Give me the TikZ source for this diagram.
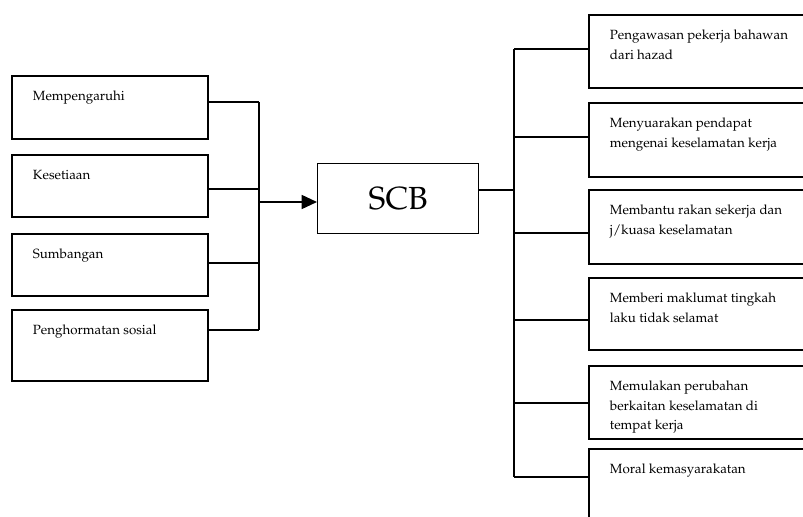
\documentclass[tikz,border=0pt]{standalone}
\usepackage[T1]{fontenc}
\usepackage{mathpazo}
\usepackage{tikz}
\usetikzlibrary{arrows.meta}

\newcommand{\cardtext}[3]{\parbox[t][\dimexpr#2-17.2pt\relax][t]{#1}{\fontsize{10}{14.5}\selectfont\strut#3}}

\tikzset{
  card/.style={draw, line width=1.4pt, anchor=north west, inner xsep=15.75pt, inner ysep=8.6pt},
  link/.style={line width=1.2pt},
}

\begin{document}
\begin{tikzpicture}[x=0.75pt,y=-0.75pt]

\useasboundingbox (0,0) rectangle (803,517);
\clip (0,0) rectangle (803,517);

\node[card] (L1) at (11,75)  {\cardtext{115.5pt}{47.25pt}{Mempengaruhi}};
\node[card] (L2) at (11,154) {\cardtext{115.5pt}{46.5pt}{Kesetiaan}};
\node[card] (L3) at (11,233) {\cardtext{115.5pt}{46.5pt}{Sumbangan}};
\node[card] (L4) at (11,309) {\cardtext{115.5pt}{53.25pt}{Penghormatan sosial}};

\node[draw, line width=1.1pt, minimum width=120.75pt, minimum height=52.5pt, anchor=north west, font=\fontsize{24}{28}\selectfont] (scb) at (317,163) {SCB};

\node[card] (R1) at (588,14)  {\cardtext{160pt}{54.75pt}{Pengawasan pekerja bahawan\\dari hazad}};
\node[card] (R2) at (588,102) {\cardtext{160pt}{55.5pt}{Menyuarakan pendapat\\mengenai keselamatan kerja}};
\node[card] (R3) at (588,189) {\cardtext{160pt}{55.5pt}{Membantu rakan sekerja dan\\j/kuasa keselamatan}};
\node[card] (R4) at (588,277) {\cardtext{160pt}{54pt}{Memberi maklumat tingkah\\laku tidak selamat}};
\node[card] (R5) at (588,365) {\cardtext{160pt}{54.75pt}{Memulakan perubahan\\berkaitan keselamatan di\\tempat kerja}};
\node[card] (R6) at (588,448) {\cardtext{160pt}{60pt}{Moral kemasyarakatan}};

% left side
\coordinate (jl) at (259,202);
\draw[link] (L1.north east) ++(0,27) coordinate (a1) -- (a1 -| jl);
\draw[link] (L2.north east) ++(0,35) coordinate (a2) -- (a2 -| jl);
\draw[link] (L3.north east) ++(0,30) coordinate (a3) -- (a3 -| jl);
\draw[link] (L4.north east) ++(0,21) coordinate (a4) -- (a4 -| jl);
\draw[link] (a1 -| jl) -- (a4 -| jl);
\draw[link, -{Triangle[length=11.5pt, width=10.5pt]}] (jl) -- (jl -| scb.west);

% right side
\coordinate (jr) at (514,190);
\draw[link] (scb.east |- jr) -- (jr);
\draw[link] (R1.north west) ++(0,35) coordinate (b1) -- (b1 -| jr);
\draw[link] (R2.north west) ++(0,35) coordinate (b2) -- (b2 -| jr);
\draw[link] (R3.north west) ++(0,44) coordinate (b3) -- (b3 -| jr);
\draw[link] (R4.north west) ++(0,43) coordinate (b4) -- (b4 -| jr);
\draw[link] (R5.north west) ++(0,38) coordinate (b5) -- (b5 -| jr);
\draw[link] (R6.north west) ++(0,29) coordinate (b6) -- (b6 -| jr);
\draw[link] (b1 -| jr) -- (b6 -| jr);

\end{tikzpicture}
\end{document}
